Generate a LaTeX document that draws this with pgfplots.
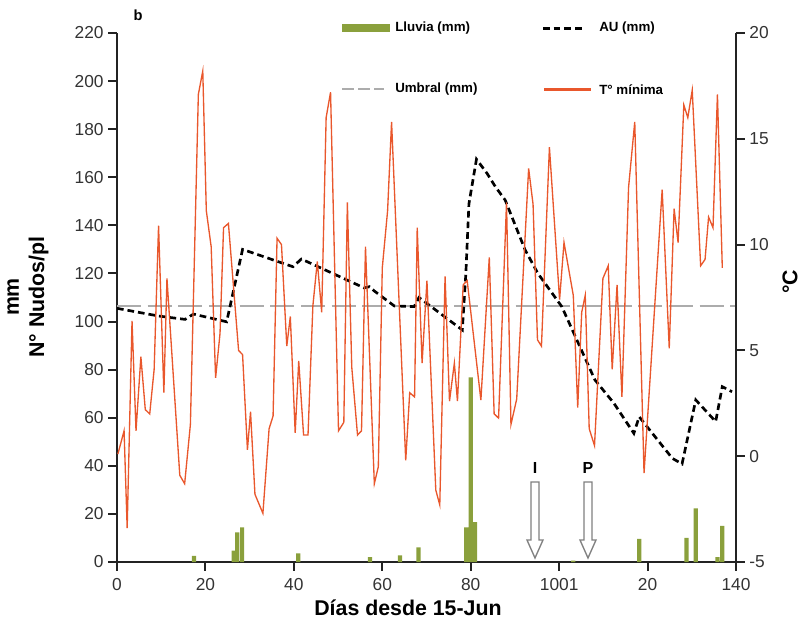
\documentclass[border=0pt]{standalone}
\usepackage{fontspec}
\setmainfont{Liberation Sans}
\usepackage{pgfplots}
\pgfplotsset{compat=1.18}

\definecolor{naranja}{RGB}{233,87,44}
\definecolor{lluvia}{RGB}{138,160,60}
\definecolor{umbral}{RGB}{172,172,172}
\definecolor{axisgray}{RGB}{35,35,35}

\newcommand{\legfont}{\bfseries\fontsize{10}{12}\selectfont}
\newcommand{\labfont}{\bfseries\fontsize{16}{19}\selectfont}

\pgfplotsset{
  chartbase/.style={
    scale only axis, width=464.25pt, height=396.75pt,
    xmin=0, xmax=140,
    axis line style={line width=1.8pt, color=axisgray},
    major tick style={line width=1.5pt, color=axisgray},
    tick align=outside, major tick length=6.5pt,
    tick label style={font=\fontsize{13}{15}\selectfont, color=black!80},
    xticklabel style={yshift=-2pt},
    /pgf/number format/assume math mode=true,
  }
}

\begin{document}
\begin{tikzpicture}
% eje izquierdo: lluvia, umbral, AU (mm)
\begin{axis}[chartbase,
    axis x line*=bottom, axis y line*=left,
    ymin=0, ymax=220, ytick={0,20,...,220},
    xtick={0,20,...,140}, xticklabels={0,20,40,60,80,1001,20,140},
]
\coordinate (O) at (rel axis cs:0,0);
\addplot[ybar, bar width=0.95, fill=lluvia, draw=none] coordinates {
  (17.4,2.5) (26.4,4.7) (27.2,12.3) (28.3,14.4) (41.0,3.6) (57.2,2.0)
  (64.0,2.8) (68.2,6.1) (79.0,14.4) (80.0,76.8) (81.0,16.6) (103.2,0.6)
  (118.1,9.6) (128.8,10.0) (130.9,22.3) (135.8,2.0) (136.9,15.0)
};
\addplot[umbral, line width=1.5pt, dash pattern=on 18pt off 5pt] coordinates {
  (0,106.5) (140,106.5)
};
\addplot[black, line width=2pt, dash pattern=on 5pt off 3pt] coordinates {
  (0,105.5) (9.4,102.3) (15.4,100.9) (17.3,103.1) (24.8,99.9) (28.4,130)
  (39.8,122.8) (41.7,126) (55.9,114) (57.1,114.5) (58.2,112.7) (62.7,106.5)
  (67.2,106.2) (68.3,110) (78.1,96.5) (78.9,120) (79.6,149) (81.3,167.5)
  (83.7,161.6) (85.6,156) (87.8,150.5) (92.3,129.8) (95.2,120) (100.6,106.2)
  (108.1,75.7) (112.4,66) (116.9,53.5) (118.1,60.4) (125.6,43.1) (127.8,40.8)
  (130.9,67.4) (135.4,58.4) (136.9,72.9) (139.1,70.8)
};
\end{axis}

% eje derecho: temperatura minima
\begin{axis}[chartbase,
    axis x line=none, axis y line*=right,
    ymin=-5, ymax=20, ytick={-5,0,...,20},
]
\addplot[naranja, line width=1pt] coordinates {
  (0.2,0.1) (1.6,1.2) (2.3,-3.4) (3.4,6.4) (4.3,1.2) (5.4,4.7) (6.4,2.2)
  (7.4,2.0) (8.4,4.1) (9.4,10.9) (10.6,3.0) (11.3,8.4) (14.2,-0.9) (15.3,-1.3)
  (16.6,1.5) (18.4,17.1) (19.4,18.2) (20.2,11.6) (21.3,9.9) (22.3,3.7)
  (23.3,5.8) (24.1,10.8) (25.2,11.0) (27.5,5.0) (28.4,4.8) (29.5,0.3)
  (30.2,2.1) (31.2,-1.8) (33.0,-2.7) (34.4,1.3) (35.3,1.9) (36.2,10.3)
  (37.2,10.0) (38.4,5.2) (39.2,6.6) (40.3,1.1) (41.1,4.5) (42.2,1.0)
  (43.2,1.0) (44.3,7.1) (45.3,9.2) (46.3,6.8) (47.3,16.0) (48.3,17.2)
  (50.1,1.2) (51.3,1.6) (52.1,12.0) (53.1,4.2) (54.4,1.0) (55.3,1.2)
  (56.2,9.9) (58.2,-1.3) (59.1,-0.5) (60.0,8.9) (61.2,11.6) (62.1,15.8)
  (65.3,-0.2) (66.2,3.0) (67.3,2.8) (67.9,10.8) (69.0,4.4) (70.1,8.3)
  (72.1,-1.6) (73.0,-2.3) (74.2,8.5) (75.2,2.6) (76.3,4.4) (77.0,2.6)
  (78.3,8.1) (79.2,8.3) (82.3,2.65) (84.2,9.4) (85.3,2.0) (86.3,1.8)
  (88.1,12.0) (89.1,1.5) (90.4,2.7) (93.1,13.6) (94.1,11.9) (95.1,5.5)
  (96.0,5.2) (97.8,14.6) (100.1,7.4) (101.1,10.1) (103.2,7.6) (104.2,2.3)
  (105.1,6.8) (105.9,7.6) (106.8,1.3) (108.0,0.5) (109.9,8.4) (111.1,9.0)
  (112.0,4.1) (113.1,8.1) (114.2,2.8) (115.7,12.7) (117.1,15.8) (119.2,-0.8)
  (123.3,12.6) (124.9,5.1) (126.0,11.7) (126.9,10.1) (128.2,16.6) (129.1,16.0)
  (130.1,17.3) (132.0,9.0) (133.0,9.3) (133.8,11.3) (134.8,10.8) (135.8,17.1)
  (136.9,8.9)
};
\end{axis}

% anotaciones en pixeles de la figura original
\begin{scope}[shift={(O)}, x=0.75pt, y=-0.75pt]
\begin{scope}[shift={(-117,-562)}]
  \node[font=\bfseries\fontsize{11}{13}\selectfont] at (138,15) {b};
  % leyenda
  \fill[lluvia] (342,24.5) rectangle (390,32.5);
  \node[anchor=west, font=\legfont, inner sep=0pt] at (395,28.5) {Lluvia (mm)};
  \draw[black, line width=2pt, dash pattern=on 5pt off 3pt] (543,28.5) -- (585,28.5);
  \node[anchor=west, font=\legfont, inner sep=0pt] at (599,28.5) {AU (mm)};
  \draw[umbral, line width=1.5pt, dash pattern=on 9pt off 3pt] (342,89.5) -- (384,89.5);
  \node[anchor=west, font=\legfont, inner sep=0pt] at (395,89.5) {Umbral (mm)};
  \fill[naranja] (544,88.4) rectangle (591,90.6);
  \node[anchor=west, font=\legfont, inner sep=0pt] at (599,89.5) {T° mínima};
  % flechas I y P
  \foreach \x/\l in {535/I,588/P} {
    \draw[black!50, line width=1pt, fill=white]
      (\x-4,482) -- (\x+4,482) -- (\x+4,540) -- (\x+8,540) -- (\x,558)
      -- (\x-8,540) -- (\x-4,540) -- cycle;
    \node[font=\bfseries\fontsize{12}{14}\selectfont] at (\x,468) {\l};
  }
  % titulos de ejes
  \node[rotate=90, align=center, font=\labfont] at (28,297) {mm\\N° Nudos/pl};
  \node[font=\labfont] at (408,608) {Días desde 15-Jun};
  \node[rotate=90, font=\labfont] at (790,282) {°C};
  \pgfresetboundingbox
  \path (0,0) rectangle (803,629);
\end{scope}
\end{scope}
\end{tikzpicture}
\end{document}
